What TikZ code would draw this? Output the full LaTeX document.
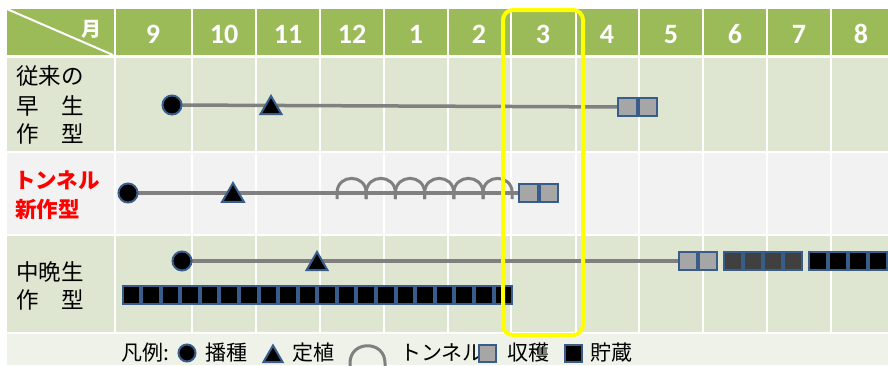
\documentclass[tikz,border=0pt]{standalone}
\usepackage{fontspec}
\newfontfamily\jp{Noto Sans CJK JP}
\newfontfamily\hd{Carlito}
\usetikzlibrary{shapes.geometric}
\definecolor{hdrgreen}{HTML}{9BBB59}
\definecolor{rowgreen}{HTML}{DEE6D1}
\definecolor{rowgray}{HTML}{F2F2F2}
\definecolor{legbg}{HTML}{EFF2E9}
\definecolor{mblue}{HTML}{385D8A}
\definecolor{lgray}{HTML}{808080}
\definecolor{hgray}{HTML}{A6A6A6}
\definecolor{dgray}{HTML}{404040}
\definecolor{yel}{HTML}{FFFF00}
\pgfdeclarelayer{bg}
\pgfdeclarelayer{lines}
\pgfsetlayers{bg,lines,main}
\tikzset{
  hdrtxt/.style={font=\hd\bfseries\fontsize{28pt}{30pt}\selectfont, text=white, anchor=base, inner sep=0pt},
  lbl/.style={font=\jp\fontsize{22.5pt}{26pt}\selectfont, anchor=west, inner sep=0pt},
  redlbl/.style={font=\jp\bfseries\fontsize{21.5pt}{26pt}\selectfont, text=red, anchor=west, inner sep=0pt},
  legtxt/.style={font=\jp\fontsize{21pt}{24pt}\selectfont, anchor=west, inner sep=0pt},
  sow/.style={circle, fill=black, draw=mblue, line width=2pt, minimum size=19pt, inner sep=0pt},
  plant/.style={regular polygon, regular polygon sides=3, fill=black, draw=mblue, line width=2pt, minimum size=24pt, inner sep=0pt},
  harv/.style={rectangle, fill=hgray, draw=mblue, line width=2pt, minimum size=18.5pt, inner sep=0pt},
  darkbox/.style={harv, fill=dgray},
  store/.style={rectangle, fill=black, draw=mblue, line width=2pt, minimum size=17.6pt, inner sep=0pt},
  gline/.style={draw=lgray, line width=3.5pt},
  arch/.style={draw=lgray, line width=3pt}
}
\begin{document}
\begin{tikzpicture}[x=1pt,y=-1pt]
\useasboundingbox (0,0) rectangle (888,365);
\begin{pgfonlayer}{bg}
\fill[white] (0,0) rectangle (888,365);
\fill[hdrgreen] (7,9) rectangle (888,55);
\fill[rowgreen] (7,58) rectangle (888,151);
\fill[rowgray] (7,153) rectangle (888,234);
\fill[rowgreen] (7,236) rectangle (888,332);
\fill[legbg] (7,334) rectangle (888,365);
\foreach \x in {115,192,256,320,384,448,511,576,639,703,767,831}
  \draw[white, line width=2pt] (\x,9) -- (\x,333);
\draw[white, line width=2pt] (7,9) -- (113,55);
\end{pgfonlayer}

% header
\node[font=\jp\bfseries\fontsize{20pt}{22pt}\selectfont, text=white, inner sep=0pt] (mon) at (91,29) {月};
\foreach \x/\t in {153/9,224/10,288/11,352/12,416/1,479/2,543/3,607/4,671/5,735/6,799/7,861/8}
  \node[hdrtxt] (h\t) at (\x,43) {\t};

% left labels
\node[lbl] (l1a) at (16,76) {従来の};
\node[lbl] (l1b) at (16,106) {早　生};
\node[lbl] (l1c) at (16,134) {作　型};
\node[redlbl] (l2a) at (14,180) {トンネル};
\node[redlbl] (l2b) at (15,209) {新作型};
\node[lbl] (l3a) at (16,272) {中晩生};
\node[lbl] (l3b) at (16,300) {作　型};

% row 1
\node[sow] (s1) at (172,105) {};
\node[plant] (p1) at (271,108) {};
\node[harv] (q1a) at (627.25,107) {};
\node[harv] (q1b) at (647.75,107) {};
\begin{pgfonlayer}{lines}
\draw[gline] (s1.center) -- (q1a.center);
\end{pgfonlayer}

% row 2
\node[sow] (s2) at (128,193) {};
\node[plant, minimum size=25pt] (p2) at (233,195.5) {};
\node[harv] (q2a) at (528.25,193) {};
\node[harv] (q2b) at (548.75,193) {};
\begin{pgfonlayer}{lines}
\draw[gline] (s2.center) -- (q2a.center);
\foreach \k in {0,...,5}{
  \pgfmathsetmacro{\a}{337+29.2*\k}
  \pgfmathsetmacro{\b}{\a+29.2}
  \draw[arch] (\a,199) -- (\a,193) .. controls (\a,173.5) and (\b,173.5) .. (\b,193) -- (\b,199);
}
\end{pgfonlayer}

% row 3
\node[sow] (s3) at (182,261) {};
\node[plant] (p3) at (317,264) {};
\node[harv] (q3a) at (688,261) {};
\node[harv] (q3b) at (708,261) {};
\foreach \x [count=\i] in {733,753,773,793}
  \node[darkbox] (d\i) at (\x,261) {};
\foreach \x [count=\i] in {818,838,858,878}
  \node[store, minimum size=18.5pt] (b\i) at (\x,261) {};
\begin{pgfonlayer}{lines}
\draw[gline] (s3.center) -- (q3a.center);
\end{pgfonlayer}
\foreach \k in {0,...,19}
  \node[store] (st\k) at ({131.3+19.58*\k},295) {};

% highlight
\draw[yel, line width=4pt, rounded corners=10pt] (503,10) rectangle (583,335);

% legend
\node[legtxt] (g0) at (121,353) {凡例:};
\node[sow, minimum size=17pt] (gs) at (187,353) {};
\node[legtxt] (g1) at (205,353) {播種};
\node[plant, minimum size=22pt] (gp) at (273,356.5) {};
\node[legtxt] (g2) at (292,353) {定植};
\draw[arch] (350,366) -- (350,363) .. controls (350,340) and (385,340) .. (385,363) -- (385,366);
\node[legtxt] (g3) at (400,353) {トンネル};
\node[harv, minimum size=17pt] (gq) at (487.5,353.5) {};
\node[legtxt] (g4) at (507,353) {収穫};
\node[store, minimum size=17pt] (gb) at (573,353.5) {};
\node[legtxt] (g5) at (590,353) {貯蔵};
\end{tikzpicture}
\end{document}
